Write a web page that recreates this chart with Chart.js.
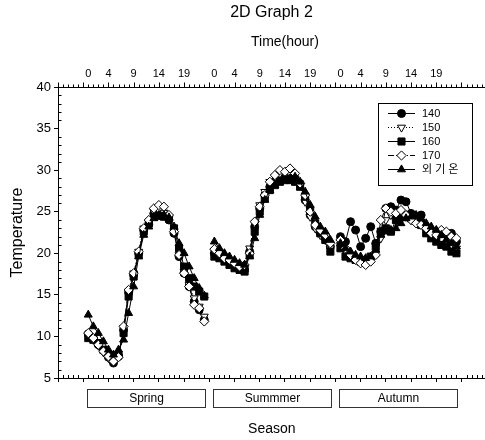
<!DOCTYPE html>
<html>
<head>
<meta charset="utf-8">
<title>2D Graph 2</title>
<script src="https://cdn.jsdelivr.net/npm/chart.js@4.4.1/dist/chart.umd.min.js"></script>
<style>
  html, body { margin: 0; padding: 0; background: #fff; overflow: hidden; }
  canvas { display: block; }
</style>
</head>
<body>
<canvas id="graph" width="485" height="440"></canvas>
<script>
// ---------- Data ----------
const hours = [0, 1, 2, 3, 4, 5, 6, 7, 8, 9, 10, 11, 12, 13, 14, 15, 16, 17, 18, 19, 20, 21, 22, 23];
const seasons = ['Spring', 'Summmer', 'Autumn'];
const seasonStart = [6, 31, 56];          // x value of hour 0 for each season block
const hourTicks = [0, 4, 9, 14, 19];      // labelled hours on the top axis
const seriesNames = ['140', '150', '160', '170', '외 기 온'];

// 24 hourly readings per season, in order spring / summer / autumn
const temp140 = [
  10.3, 9.8, 9.0, 8.3, 7.5, 6.8, 7.6, 10.8, 15.3, 17.4, 20.0, 22.8, 23.5, 24.8, 24.8, 24.6, 24.0, 22.4, 19.6, 17.6, 16.0, 14.2, 13.2, 12.0,
  20.0, 19.6, 19.2, 19.0, 18.6, 18.2, 18.0, 20.2, 23.2, 25.4, 27.0, 28.0, 28.6, 29.0, 29.2, 29.2, 29.0, 28.4, 26.4, 24.6, 23.2, 22.4, 21.8, 20.8,
  22.0, 21.4, 23.8, 22.8, 20.8, 21.8, 23.2, 21.2, 22.6, 25.4, 25.6, 25.2, 26.4, 26.2, 24.8, 24.0, 24.6, 23.2, 22.6, 22.6, 22.2, 22.2, 22.4, 21.4
];
const temp150 = [
  10.1, 9.6, 8.9, 8.1, 7.4, 7.0, 7.6, 11.0, 15.4, 17.6, 20.2, 23.0, 23.8, 25.0, 25.2, 24.9, 24.2, 22.6, 19.8, 17.8, 16.2, 14.6, 13.6, 12.4,
  20.2, 19.8, 19.4, 19.0, 18.8, 18.4, 18.4, 20.6, 23.6, 25.8, 27.4, 28.6, 29.2, 29.6, 29.8, 29.6, 29.0, 28.2, 26.2, 24.4, 23.0, 22.2, 21.6, 20.6,
  21.0, 20.2, 19.8, 19.4, 19.0, 18.8, 19.2, 20.0, 21.8, 24.0, 24.6, 25.0, 24.8, 24.4, 24.0, 23.8, 23.6, 23.0, 22.4, 22.0, 21.6, 21.2, 21.0, 20.6
];
const temp160 = [
  9.8, 9.6, 9.2, 8.4, 7.8, 7.2, 7.8, 10.4, 14.8, 17.2, 19.8, 22.6, 23.6, 24.4, 24.5, 24.4, 24.2, 23.0, 20.6, 18.4, 17.0, 16.0, 15.4, 14.8,
  19.6, 19.4, 19.0, 18.6, 18.2, 18.0, 17.8, 19.8, 22.6, 25.0, 26.6, 27.6, 28.2, 28.6, 28.8, 28.8, 28.6, 28.0, 26.8, 25.2, 23.6, 22.4, 21.6, 20.2,
  20.6, 19.6, 19.4, 19.2, 19.0, 19.2, 19.6, 20.8, 22.6, 23.0, 22.6, 24.0, 24.4, 24.6, 24.2, 24.0, 23.4, 22.4, 21.8, 21.4, 21.0, 20.8, 20.2, 20.0
];
const temp170 = [
  10.4, 9.8, 9.0, 8.2, 7.6, 7.0, 7.5, 11.2, 15.6, 17.6, 20.2, 23.0, 24.0, 25.4, 25.8, 25.6, 24.6, 22.6, 19.8, 17.6, 16.0, 13.8, 13.4, 11.8,
  20.5, 20.0, 19.4, 19.2, 18.8, 18.4, 18.6, 20.0, 23.8, 25.6, 27.0, 28.6, 29.4, 30.0, 29.8, 30.2, 29.6, 28.4, 27.0, 25.0, 23.4, 22.8, 22.2, 21.2,
  21.6, 20.6, 19.8, 19.2, 18.8, 18.6, 19.0, 19.8, 24.0, 25.4, 25.0, 24.8, 25.2, 24.6, 24.0, 23.6, 23.4, 23.0, 22.4, 22.2, 22.8, 22.6, 22.0, 21.8
];
const tempOutdoor = [
  12.6, 11.2, 10.4, 9.4, 8.4, 7.8, 8.4, 9.6, 12.8, 16.0, 19.6, 22.2, 23.2, 24.2, 24.6, 24.6, 24.3, 23.2, 21.2, 20.0, 18.4, 17.0, 15.8, 14.9,
  21.4, 20.6, 20.0, 19.6, 19.2, 18.8, 18.6, 19.6, 21.8, 24.6, 26.4, 27.6, 28.2, 28.6, 28.8, 29.0, 29.2, 28.6, 27.4, 25.8, 24.4, 23.2, 22.6, 21.6,
  21.2, 20.6, 20.2, 19.8, 19.6, 19.4, 19.6, 20.4, 22.2, 22.6, 22.8, 23.0, 23.6, 24.2, 24.4, 24.6, 24.2, 23.6, 23.2, 22.8, 22.2, 21.6, 21.2, 20.8
];
const seriesValues = [temp140, temp150, temp160, temp170, tempOutdoor];

// ---------- Look ----------
const FONT = '"Liberation Sans", Arial, "Noto Sans CJK KR", sans-serif';
const X_MAX = 84.66;
const seriesStyles = [
  { pointStyle: 'circle',   radius: 4,   rotation: 0,   fill: '#000', dash: [] },
  { pointStyle: 'triangle', radius: 4.6, rotation: 180, fill: '#fff', dash: [1, 2] },
  { pointStyle: 'rect',     radius: 5,   rotation: 0,   fill: '#000', dash: [] },
  { pointStyle: 'rectRot',  radius: 4.6, rotation: 0,   fill: '#fff', dash: [6, 2, 1, 2] },
  { pointStyle: 'triangle', radius: 4.6, rotation: 0,   fill: '#000', dash: [] }
];

Chart.defaults.font.family = FONT;
Chart.defaults.color = '#000';

// hourly points for one series, broken between seasons
function buildPoints(values) {
  const pts = [];
  seasonStart.forEach((start, s) => {
    hours.forEach((h, i) => pts.push({ x: start + h, y: values[s * hours.length + i] }));
    pts.push({ x: start + hours.length, y: null });
  });
  return pts;
}

const topTickValues = [], topTickLabels = [];
seasonStart.forEach(start => hourTicks.forEach(h => {
  topTickValues.push(start + h);
  topTickLabels.push(String(h));
}));

const datasets = seriesNames.map((name, i) => {
  const st = seriesStyles[i];
  return {
    label: name,
    data: buildPoints(seriesValues[i]),
    borderColor: '#000',
    borderWidth: 1,
    borderDash: st.dash,
    pointStyle: st.pointStyle,
    pointRadius: st.radius,
    pointRotation: st.rotation,
    pointBackgroundColor: st.fill,
    pointBorderColor: '#000',
    pointBorderWidth: 1,
    fill: false,
    tension: 0,
    spanGaps: false,
    order: seriesNames.length - i   // later series drawn on top
  };
});

// minor ticks, season boxes, axis captions and the boxed legend
const decorPlugin = {
  id: 'decor',
  afterDraw(chart) {
    const { ctx, chartArea: area, scales: { x, y } } = chart;
    ctx.save();
    ctx.strokeStyle = '#000';
    ctx.lineWidth = 1;

    ctx.beginPath();
    for (let v = 0; v <= X_MAX; v++) {
      const px = Math.round(x.getPixelForValue(v)) + 0.5;
      ctx.moveTo(px, area.top);
      ctx.lineTo(px, area.top - (v % 5 === 0 ? 4.5 : 2.5));
      if (v % 5 !== 0) {
        ctx.moveTo(px, area.bottom);
        ctx.lineTo(px, area.bottom - 3);
      }
    }
    for (let v = y.min; v <= y.max; v++) {
      if (v % 5 === 0) continue;
      const py = Math.round(y.getPixelForValue(v)) + 0.5;
      ctx.moveTo(area.left, py);
      ctx.lineTo(area.left + 3.5, py);
    }
    ctx.stroke();

    // season boxes under the bottom axis
    ctx.font = '12px ' + FONT;
    ctx.textAlign = 'center';
    ctx.textBaseline = 'middle';
    ctx.strokeStyle = '#333';
    const boxTop = area.bottom + 11, boxH = 18;
    seasons.forEach((name, s) => {
      const l = Math.round(x.getPixelForValue(seasonStart[s] - 0.3)) + 0.5;
      const r = Math.round(x.getPixelForValue(seasonStart[s] + hours.length - 0.9)) + 0.5;
      ctx.strokeRect(l, boxTop + 0.5, r - l, boxH);
      ctx.fillStyle = '#000';
      ctx.fillText(name, (l + r) / 2, boxTop + boxH / 2 + 1);
    });

    const first = x.getPixelForValue(seasonStart[0] - 0.3);
    const last = x.getPixelForValue(seasonStart[2] + hours.length - 0.9);
    ctx.font = '14px ' + FONT;
    ctx.fillText('Season', (first + last) / 2, area.bottom + 51);
    ctx.fillText('Time(hour)', x.getPixelForValue(45), 42);

    // legend
    ctx.strokeStyle = '#000';
    const boxR = area.right - 13, boxW = 94, boxL = boxR - boxW;
    const boxT = area.top + 16, boxHt = 82;
    ctx.strokeRect(boxL + 0.5, boxT + 0.5, boxW, boxHt);
    ctx.font = '11px ' + FONT;
    ctx.textAlign = 'left';
    seriesNames.forEach((name, i) => {
      const st = seriesStyles[i];
      const cy = boxT + 10.5 + i * 14;
      ctx.setLineDash(st.dash);
      ctx.beginPath();
      ctx.moveTo(boxL + 10, cy);
      ctx.lineTo(boxL + 37, cy);
      ctx.stroke();
      ctx.setLineDash([]);
      ctx.fillStyle = st.fill;
      Chart.helpers.drawPoint(ctx, { pointStyle: st.pointStyle, radius: st.radius, rotation: st.rotation, borderWidth: 1 }, boxL + 23.5, cy);
      ctx.fillStyle = '#000';
      ctx.fillText(name, boxL + 44, cy + 0.5);
    });
    ctx.restore();
  }
};

new Chart(document.getElementById('graph'), {
  type: 'line',
  data: { datasets },
  options: {
    responsive: false,
    animation: false,
    events: [],
    layout: { padding: 0, autoPadding: false },
    plugins: {
      legend: { display: false },
      tooltip: { enabled: false },
      title: {
        display: true,
        text: '2D Graph 2',
        fullSize: false,
        color: '#000',
        font: { size: 16, weight: 'normal' },
        padding: { top: 3, bottom: 4 }
      }
    },
    scales: {
      x: {
        type: 'linear',
        position: 'bottom',
        min: 0,
        max: X_MAX,
        afterBuildTicks: axis => { axis.ticks = [0, 5, 10, 15, 20, 25, 30, 35, 40, 45, 50, 55, 60, 65, 70, 75, 80].map(v => ({ value: v })); },
        afterFit: axis => { axis.height = 62; },
        ticks: { display: false },
        grid: { drawOnChartArea: false, drawTicks: true, tickLength: 4, color: '#000' },
        border: { display: true, color: '#000', width: 1 }
      },
      x2: {
        type: 'linear',
        position: 'top',
        min: 0,
        max: X_MAX,
        afterBuildTicks: axis => { axis.ticks = topTickValues.map(v => ({ value: v })); },
        afterFit: axis => { axis.height = 60.8; },
        ticks: {
          autoSkip: false,
          maxRotation: 0,
          padding: 6.5,
          font: { size: 11 },
          callback: (v, i) => topTickLabels[i]
        },
        grid: { display: false, drawTicks: false },
        border: { display: true, color: '#000', width: 1 }
      },
      y: {
        type: 'linear',
        min: 5,
        max: 40,
        afterFit: axis => { axis.width = 58; },
        ticks: { stepSize: 5, padding: 3, font: { size: 13 } },
        grid: { drawOnChartArea: false, drawTicks: true, tickLength: 4, color: '#000' },
        border: { display: true, color: '#000', width: 1 },
        title: {
          display: true,
          text: 'Temperature',
          color: '#000',
          font: { size: 16 },
          padding: { top: 8, bottom: 0 }
        }
      }
    }
  },
  plugins: [decorPlugin]
});
</script>
</body>
</html>
